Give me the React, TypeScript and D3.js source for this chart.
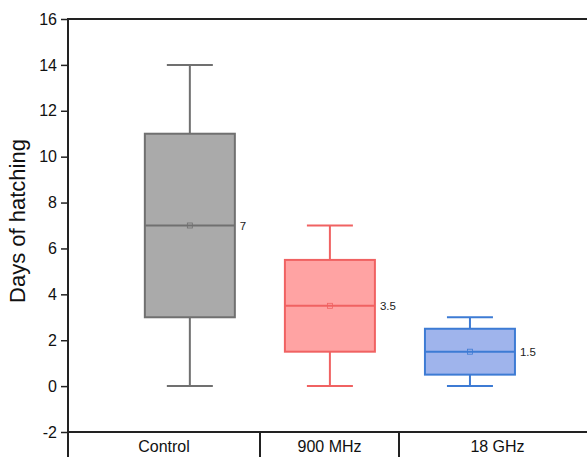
import * as d3 from 'd3';
import React, { useEffect, useRef } from 'react';

// categories and box statistics
const groups = ['Control', '900 MHz', '18 GHz'];
const mins = [0, 0, 0];
const q1s = [3, 1.5, 0.5];
const medians = [7, 3.5, 1.5];
const q3s = [11, 5.5, 2.5];
const maxs = [14, 7, 3];
const means = [7, 3.5, 1.5];
const yTicks = [-2, 0, 2, 4, 6, 8, 10, 12, 14, 16];

const fills = ['#aaaaaa', '#ffa3a3', '#9fb4ec'];
const strokes = ['#707070', '#f06262', '#3d7bd4'];

const W = 587;
const H = 457;

export default function App() {
  const ref = useRef<SVGSVGElement>(null);

  useEffect(() => {
    const svg = d3.select(ref.current);
    svg.selectAll('*').remove();

    const left = 68;
    const right = 596;
    const top = 19;
    const bottom = 432;

    const y = d3.scaleLinear().domain([-2, 16]).range([bottom, top]);
    const x = d3.scaleLinear().domain([0.13, 3.9]).range([left, right]);
    const boxW = 90;
    const capW = 46;

    const font = 'Liberation Sans, Arial, sans-serif';

    // top frame line
    svg.append('line')
      .attr('x1', left).attr('x2', right)
      .attr('y1', top).attr('y2', top)
      .attr('stroke', '#222').attr('stroke-width', 2);

    // y axis (plain hyphen for negatives, like the original)
    const yAxis = d3.axisLeft(y).tickValues(yTicks)
      .tickFormat(d => String(d)).tickSize(7).tickPadding(4);
    const gy = svg.append('g').attr('transform', `translate(${left},0)`).call(yAxis);
    gy.select('.domain').remove();
    gy.selectAll('.tick line').attr('stroke', '#222').attr('stroke-width', 1.5);
    gy.selectAll('.tick text')
      .attr('font-family', font).attr('font-size', 16).attr('fill', '#111');
    svg.append('line')
      .attr('x1', left).attr('x2', left)
      .attr('y1', top - 1).attr('y2', H)
      .attr('stroke', '#222').attr('stroke-width', 2);

    svg.append('text')
      .attr('transform', `translate(25,221) rotate(-90)`)
      .attr('text-anchor', 'middle')
      .attr('font-family', font).attr('font-size', 22).attr('fill', '#111')
      .text('Days of hatching');

    // category table below the plot
    svg.append('line')
      .attr('x1', left).attr('x2', right)
      .attr('y1', bottom).attr('y2', bottom)
      .attr('stroke', '#222').attr('stroke-width', 2);
    const cellEdges = [left, 260, 399, right];
    [1, 2].forEach(i => {
      svg.append('line')
        .attr('x1', cellEdges[i]).attr('x2', cellEdges[i])
        .attr('y1', bottom).attr('y2', H)
        .attr('stroke', '#222').attr('stroke-width', 2);
    });
    groups.forEach((g, i) => {
      svg.append('text')
        .attr('x', (cellEdges[i] + cellEdges[i + 1]) / 2)
        .attr('y', 452)
        .attr('text-anchor', 'middle')
        .attr('font-family', font).attr('font-size', 16).attr('fill', '#111')
        .text(g);
    });

    // boxes
    groups.forEach((g, i) => {
      const cx = x(i + 1);
      const gb = svg.append('g');
      const st = strokes[i];
      // whiskers
      gb.append('line').attr('x1', cx).attr('x2', cx)
        .attr('y1', y(q3s[i])).attr('y2', y(maxs[i]))
        .attr('stroke', st).attr('stroke-width', 2);
      gb.append('line').attr('x1', cx).attr('x2', cx)
        .attr('y1', y(q1s[i])).attr('y2', y(mins[i]))
        .attr('stroke', st).attr('stroke-width', 2);
      [maxs[i], mins[i]].forEach(v => {
        gb.append('line')
          .attr('x1', cx - capW / 2).attr('x2', cx + capW / 2)
          .attr('y1', y(v)).attr('y2', y(v))
          .attr('stroke', st).attr('stroke-width', 2);
      });
      gb.append('rect')
        .attr('x', cx - boxW / 2).attr('width', boxW)
        .attr('y', y(q3s[i])).attr('height', y(q1s[i]) - y(q3s[i]))
        .attr('fill', fills[i]).attr('stroke', st).attr('stroke-width', 2);
      gb.append('line')
        .attr('x1', cx - boxW / 2).attr('x2', cx + boxW / 2)
        .attr('y1', y(medians[i])).attr('y2', y(medians[i]))
        .attr('stroke', st).attr('stroke-width', 2);
      gb.append('rect')
        .attr('x', cx - 2.5).attr('y', y(means[i]) - 2.5)
        .attr('width', 5).attr('height', 5)
        .attr('fill', 'none').attr('stroke', st).attr('stroke-width', 0.8);
      gb.append('text')
        .attr('x', cx + boxW / 2 + 5).attr('y', y(medians[i]) + 4)
        .attr('font-family', font).attr('font-size', 11.5).attr('fill', '#222')
        .text(String(medians[i]));
    });
  }, []);

  return (
    <svg ref={ref} width={W} height={H}
      style={{ position: 'absolute', left: 0, top: 0, background: '#fff' }} />
  );
}
